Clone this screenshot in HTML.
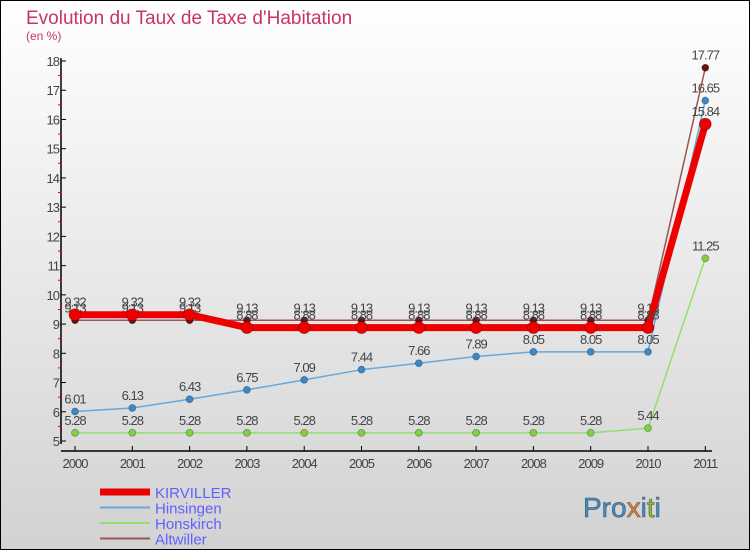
<!DOCTYPE html>
<html><head><meta charset="utf-8"><style>
body{margin:0;width:750px;height:550px;overflow:hidden}
svg{display:block;font-family:"Liberation Sans",sans-serif}
</style></head><body>
<svg width="750" height="550" viewBox="0 0 750 550" xmlns="http://www.w3.org/2000/svg">
<defs><linearGradient id="bg" x1="0" y1="0" x2="0" y2="1"><stop offset="0" stop-color="#ffffff"/><stop offset="1" stop-color="#d2d2d2"/></linearGradient></defs>
<rect x="0.5" y="0.5" width="749" height="549" fill="url(#bg)" stroke="#000"/>
<text x="26" y="24" font-size="19" fill="#c8336a">Evolution du Taux de Taxe d'Habitation</text>
<text x="26" y="40" font-size="12" fill="#c8336a">(en %)</text>
<g id="axes"></g>
<g id="series"></g>
<g id="legend"></g>
<g font-size="28">
<text x="583" y="517" stroke="#555" stroke-width="0.6"><tspan fill="#3a8fd0">Pro</tspan><tspan fill="#f08020">x</tspan><tspan fill="#3a8fd0">i</tspan><tspan fill="#80c030">t</tspan><tspan fill="#3a8fd0">i</tspan></text>
</g>
</svg>
<script>
const years=[2000,2001,2002,2003,2004,2005,2006,2007,2008,2009,2010,2011];
const kirviller=[9.32,9.32,9.32,8.88,8.88,8.88,8.88,8.88,8.88,8.88,8.88,15.84];
const hinsingen=[6.01,6.13,6.43,6.75,7.09,7.44,7.66,7.89,8.05,8.05,8.05,16.65];
const honskirch=[5.28,5.28,5.28,5.28,5.28,5.28,5.28,5.28,5.28,5.28,5.44,11.25];
const altwiller=[9.13,9.13,9.13,9.13,9.13,9.13,9.13,9.13,9.13,9.13,9.13,17.77];
const yTicks=[5,6,7,8,9,10,11,12,13,14,15,16,17,18];
const NS="http://www.w3.org/2000/svg";
const xs=i=>75+i*57.3;
const ys=v=>441-(v-5)*29.23;
function mk(tag,attrs,parent,txt){const e=document.createElementNS(NS,tag);for(const k in attrs)e.setAttribute(k,attrs[k]);if(txt!==undefined)e.textContent=txt;parent.appendChild(e);return e;}
const ax=document.getElementById('axes');
let l=mk('line',{x1:61,y1:58,x2:61,y2:444,stroke:'#000','stroke-width':1.5},ax);


l=mk('line',{x1:61,y1:451,x2:712,y2:451,stroke:'#000','stroke-width':1.5},ax);


yTicks.forEach(v=>{
 mk('line',{x1:61,y1:ys(v),x2:66,y2:ys(v),stroke:'#000'},ax);
 if(v<18)mk('line',{x1:58,y1:ys(v+0.5),x2:62,y2:ys(v+0.5),stroke:'#e00'},ax);
 const t=mk('text',{x:59,y:ys(v)+5,'font-size':13,fill:'#444','text-anchor':'end','letter-spacing':'-1'},ax,String(v));
 
 
});
years.forEach((y,i)=>{
 mk('line',{x1:xs(i),y1:446,x2:xs(i),y2:451,stroke:'#000'},ax);
 const t=mk('text',{x:xs(i),y:468,'font-size':13,fill:'#444','text-anchor':'middle','letter-spacing':'-1'},ax,String(y));
 
 
});
const sg=document.getElementById('series');
function series(name,data,color,w,r,dot){
 const g=mk('g',{},sg);
 
 
 mk('polyline',{points:data.map((v,i)=>xs(i)+','+ys(v)).join(' '),fill:'none',stroke:color,'stroke-width':w,'stroke-linejoin':'round'},g);
 data.forEach((v,i)=>{
  const c=mk('circle',{cx:xs(i),cy:ys(v),r:r,fill:dot,stroke:'rgba(0,0,0,0.3)','stroke-width':0.8},g);
  
  
  const t=mk('text',{x:xs(i),y:ys(v)-8,'font-size':13,fill:'#444','text-anchor':'middle','letter-spacing':'-1'},g,v.toFixed(2));
  
  
 });
}
series('honskirch',honskirch,'#90e070',1.5,3.5,'#80d040');
series('hinsingen',hinsingen,'#6aa8d8',1.5,3.5,'#3a88c8');
series('altwiller',altwiller,'#9a5555',1.5,3.5,'#6a1010');
series('kirviller',kirviller,'#ee0000',7,6,'#ee0000');
const lg=document.getElementById('legend');
[['KIRVILLER','#ee0000',7],['Hinsingen','#6aa8d8',2],['Honskirch','#90e070',2],['Altwiller','#9a5555',2]].forEach((e,i)=>{
 const g=mk('g',{},lg);
 
 
 const y=492+i*15.5;
 mk('line',{x1:100,y1:y,x2:150,y2:y,stroke:e[1],'stroke-width':e[2]},g);
 mk('text',{x:155,y:y+6,'font-size':15,fill:'#6060ff'},g,e[0]);
});
</script>
</body></html>
